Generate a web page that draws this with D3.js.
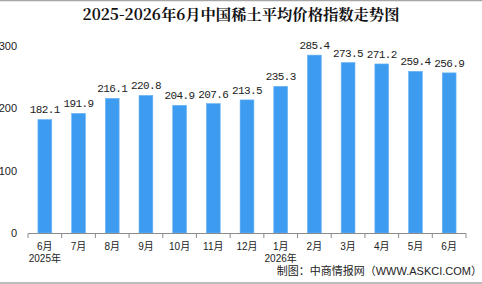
<!DOCTYPE html>
<html><head><meta charset="utf-8">
<script src="https://cdn.jsdelivr.net/npm/d3@7"></script>
<style>
body{margin:0;background:#fff;}
svg{display:block;}
</style></head><body>
<script>
const categories = ["6月","7月","8月","9月","10月","11月","12月","1月","2月","3月","4月","5月","6月"];
const yearLabels = ["2025年","","","","","","","2026年","","","","",""];
const values = [182.1,191.9,216.1,220.8,204.9,207.6,213.5,235.3,285.4,273.5,271.2,259.4,256.9];
const yTicks = [0,100,200,300];
const title = "2025-2026年6月中国稀土平均价格指数走势图";
const source = "制图：中商情报网（WWW.ASKCI.COM）";

const W = 482, H = 284;
const svg = d3.select("body").append("svg").attr("width", W).attr("height", H);

svg.append("line").attr("x1",0).attr("x2",W).attr("y1",0.5).attr("y2",0.5).attr("stroke","#a6a6a6").attr("stroke-width",1.5);
svg.append("line").attr("x1",0).attr("x2",W).attr("y1",283).attr("y2",283).attr("stroke","#a6a6a6").attr("stroke-width",1.5);

svg.append("text").attr("x",241).attr("y",20).attr("text-anchor","middle")
  .attr("font-family","'Noto Serif CJK SC','Noto Sans CJK SC',serif").attr("font-weight","bold")
  .attr("font-size",15.3).attr("fill","#111").text(title);

const x = d3.scaleBand().domain(d3.range(categories.length)).range([28,466]).paddingInner(0.59).paddingOuter(0.295);
const y = d3.scaleLinear().domain([0,300]).range([233,46]);

svg.append("g").selectAll("rect").data(values).join("rect")
  .attr("x",(d,i)=>x(i)).attr("width",x.bandwidth())
  .attr("y",d=>y(d)).attr("height",d=>y(0)-y(d))
  .attr("fill","#3d9bf0").attr("stroke","#6cb5f5").attr("stroke-width",0.6);

svg.append("g").selectAll("text").data(values).join("text")
  .attr("x",(d,i)=>x(i)+x.bandwidth()/2).attr("y",d=>y(d)-6)
  .attr("text-anchor","middle").attr("font-family","'Liberation Mono',monospace")
  .attr("font-size",11).attr("letter-spacing",-0.6).attr("fill","#222").text(d=>d.toFixed(1));

// y axis labels
svg.append("g").selectAll("text").data(yTicks).join("text")
  .attr("x",17).attr("y",d=>y(d)+4).attr("text-anchor","end")
  .attr("font-family","'Liberation Sans',sans-serif").attr("font-size",11).attr("fill","#222").text(d=>d);

// x axis
const step = x.step();
svg.append("line").attr("x1",28).attr("x2",466).attr("y1",233.5).attr("y2",233.5).attr("stroke","#8c8c8c");
svg.append("g").selectAll("line").data(d3.range(categories.length+1)).join("line")
  .attr("x1",i=>28+i*step).attr("x2",i=>28+i*step).attr("y1",233.5).attr("y2",238)
  .attr("stroke","#8c8c8c");

const lblFont = "'Liberation Sans','Noto Sans CJK SC',sans-serif";
svg.append("g").selectAll("text").data(categories).join("text")
  .attr("x",(d,i)=>x(i)+x.bandwidth()/2).attr("y",250)
  .attr("text-anchor","middle").attr("font-family",lblFont)
  .attr("font-size",10).attr("fill","#222").text(d=>d);
svg.append("g").selectAll("text").data(yearLabels).join("text")
  .attr("x",(d,i)=>x(i)+x.bandwidth()/2).attr("y",262)
  .attr("text-anchor","middle").attr("font-family",lblFont)
  .attr("font-size",10).attr("fill","#222").text(d=>d);

svg.append("text").attr("x",482).attr("y",275).attr("text-anchor","end")
  .attr("font-family",lblFont).attr("font-size",11).attr("fill","#222").text(source);
</script>
</body></html>
